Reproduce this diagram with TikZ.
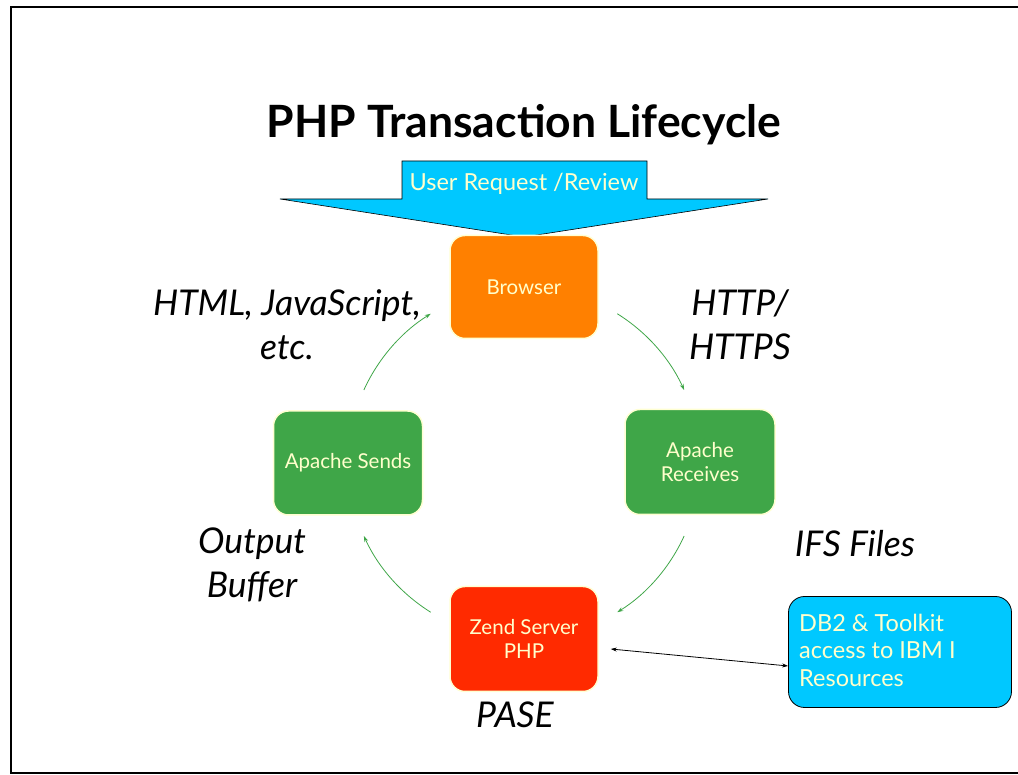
\documentclass[tikz,border=0pt]{standalone}
\usepackage{fontspec}
\setmainfont{Lato}
\usetikzlibrary{arrows.meta}
\definecolor{skyb}{RGB}{0,200,255}
\definecolor{orng}{RGB}{255,128,0}
\definecolor{grn}{RGB}{63,166,72}
\definecolor{redz}{RGB}{255,42,0}
\definecolor{cream}{RGB}{255,255,204}
\definecolor{edgey}{RGB}{255,255,210}
\tikzset{
  stepbox/.style={rounded corners=15pt, draw=edgey, line width=1.5pt, text=cream,
    minimum width=148pt, minimum height=103pt, align=center, font=\fontsize{20.5}{23.5}\selectfont, inner sep=0pt},
  flow/.style={draw=grn, line width=0.8pt, -{Stealth[length=6pt,width=4pt]}},
  lbl/.style={font=\fontsize{35.5}{44}\selectfont\itshape, align=center, text=black},
}
\begin{document}
\begin{tikzpicture}[x=1pt,y=1pt]
\useasboundingbox (0,0) rectangle (1018,775);
% frame
\draw[line width=1.5pt] (1040,768) -- (11,768) -- (11,2) -- (1040,2);
% title
\node[font=\fontsize{44.5}{48}\selectfont\bfseries] (title) at (524,650) {PHP Transaction Lifecycle};
% big arrow
\draw[fill=skyb, draw=black, line width=0.6pt] (402,614) -- (647,614) -- (647,576) -- (768,576) -- (524,538) -- (280,576) -- (402,576) -- cycle;
\node[text=cream, font=\fontsize{23.5}{26}\selectfont] (req) at (524,591) {User Request /Review};
% nodes
\node[stepbox, fill=orng] (browser) at (524,488) {Browser};
\node[stepbox, fill=grn, minimum width=150pt, minimum height=105pt] (recv) at (700,313) {Apache\\Receives};
\node[stepbox, fill=grn, minimum width=149pt, minimum height=104pt] (send) at (348,312) {Apache Sends};
\node[stepbox, fill=redz, minimum height=105pt] (zend) at (524,136) {Zend Server\\PHP};
\node[rounded corners=16pt, draw=black, line width=0.8pt, fill=skyb, text=cream,
  minimum width=223pt, minimum height=111pt, inner sep=0pt] (db2) at (900,123) {};
\node[anchor=north west, text=cream, align=left, font=\fontsize{23.5}{27.5}\selectfont, inner sep=0pt]
  (db2t) at (799,161) {DB2 \& Toolkit\\access to IBM I\\Resources};
% cycle arcs
\coordinate (c) at (524,312);
\draw[flow] ([shift={(58:176)}]c) arc[start angle=58, end angle=24.5, radius=176];
\draw[flow] ([shift={(-24.5:176)}]c) arc[start angle=-24.5, end angle=-58, radius=176];
\draw[flow] ([shift={(-122:176)}]c) arc[start angle=-122, end angle=-155.5, radius=176];
\draw[flow] ([shift={(155.5:176)}]c) arc[start angle=155.5, end angle=122, radius=176];
% db2 link
\draw[{Stealth[length=6pt,width=4pt]}-{Stealth[length=6pt,width=4pt]}, line width=0.8pt]
  ([xshift=12pt,yshift=-10pt]zend.east) -- ([yshift=-14pt]db2.west);
% labels
\node[lbl] (l1) at (287,450) {HTML, JavaScript,\\etc.};
\node[lbl] (l2) at (740,450) {HTTP/\\HTTPS};
\node[lbl] (l3) at (855,231) {IFS Files};
\node[lbl] (l4) at (252,210) {Output\\Buffer};
\node[lbl] (l5) at (515,60) {PASE};
\end{tikzpicture}
\end{document}
